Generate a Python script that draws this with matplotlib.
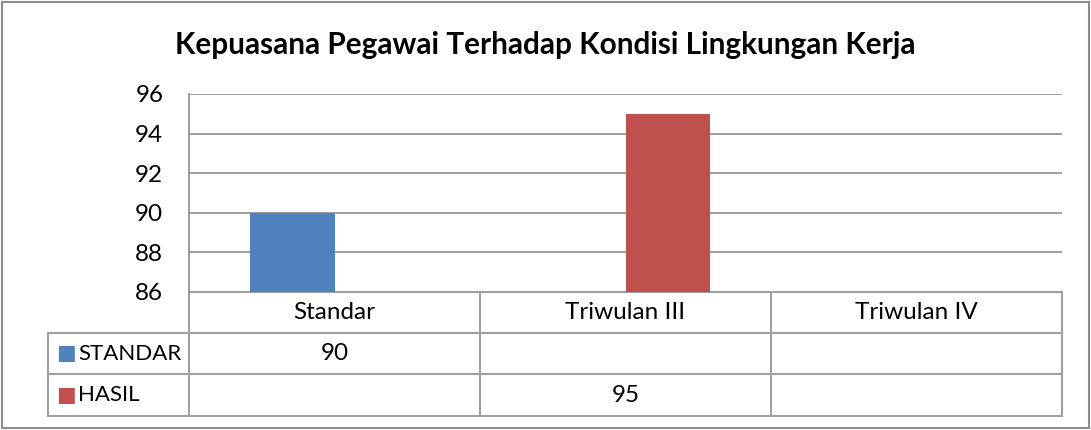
import matplotlib
matplotlib.use("Agg")
import matplotlib.pyplot as plt
from matplotlib.patches import Rectangle
from matplotlib.lines import Line2D
import numpy as np

# data
title = "Kepuasana Pegawai Terhadap Kondisi Lingkungan Kerja"
categories = ["Standar", "Triwulan III", "Triwulan IV"]
series_names = ["STANDAR", "HASIL"]
standar = [90, None, None]
hasil = [None, 95, None]
colors = ["#4F81BD", "#C0504D"]
yticks = [86, 88, 90, 92, 94, 96]

W, H = 1091, 430
plt.rcParams["font.family"] = ["Lato", "DejaVu Sans"]
fig = plt.figure(figsize=(W / 100, H / 100), dpi=100)

# outer chart border
fig.patches.append(Rectangle((2 / W, 2 / H), (W - 4) / W, (H - 4) / H,
                             transform=fig.transFigure, fill=False,
                             edgecolor="#8C8C8C", linewidth=1.5))

left, right, top, bottom = 189, 1062, 94, 292
ax = fig.add_axes([left / W, (H - bottom) / H, (right - left) / W, (bottom - top) / H])

x = np.arange(len(categories))
bw = 0.289
for i, (name, vals) in enumerate(zip(series_names, [standar, hasil])):
    off = (i - 0.5) * bw
    for xi, v in zip(x, vals):
        if v is not None:
            ax.bar(xi + off, v - yticks[0], bw, bottom=yticks[0], color=colors[i], zorder=3)

fs = 17.5
ax.set_xlim(-0.5, len(categories) - 0.5)
ax.set_ylim(yticks[0], yticks[-1])
ax.set_yticks(yticks)
ax.set_yticklabels([str(t) for t in yticks], fontsize=fs)
ax.tick_params(axis="y", length=0, pad=18.5)
ax.set_xticks([])
ax.grid(axis="y", color="#8C8C8C", linewidth=1.2, zorder=1)
for s in ["top", "right", "bottom"]:
    ax.spines[s].set_visible(False)
ax.spines["left"].set_color("#8C8C8C")
ax.spines["left"].set_linewidth(1.2)

fig.text(0.5, (H - 45) / H, title, ha="center", va="center",
         fontsize=21.4, fontweight="bold")

# data table under the axis
ph = bottom - top
row_y = [0, -41 / ph, -82 / ph, -124 / ph]
legend_left = -0.5 - (left - 48) / ((right - left) / len(categories))
tr = ax.get_xaxis_transform()
lc = "#A0A0A0"
lw = 1.5

def hline(x0, x1, y):
    ax.add_line(Line2D([x0, x1], [y, y], transform=tr, color=lc, lw=lw, clip_on=False))

def vline(xv, y0, y1):
    ax.add_line(Line2D([xv, xv], [y0, y1], transform=tr, color=lc, lw=lw, clip_on=False))

hline(-0.5, len(categories) - 0.5, row_y[0])
for y in row_y[1:]:
    hline(legend_left, len(categories) - 0.5, y)
for xb in np.arange(-0.5, len(categories), 1.0):
    vline(xb, row_y[0], row_y[3])
vline(legend_left, row_y[1], row_y[3])

for xi, cat in zip(x, categories):
    ax.text(xi, (row_y[0] + row_y[1]) / 2, cat, transform=tr, ha="center", va="center",
            fontsize=fs)

for r, (name, vals) in enumerate(zip(series_names, [standar, hasil])):
    yc = (row_y[r + 1] + row_y[r + 2]) / 2
    ax.text(legend_left + 0.028, yc, "\u25A0", transform=tr, ha="left", va="center",
            color=colors[r], fontsize=15, family="DejaVu Sans")
    ax.text(legend_left + 0.104, yc, name, transform=tr, ha="left", va="center", fontsize=16)
    for xi, v in zip(x, vals):
        if v is not None:
            ax.text(xi, yc, str(v), transform=tr, ha="center", va="center", fontsize=fs)

fig.savefig("out.png", dpi=100)
